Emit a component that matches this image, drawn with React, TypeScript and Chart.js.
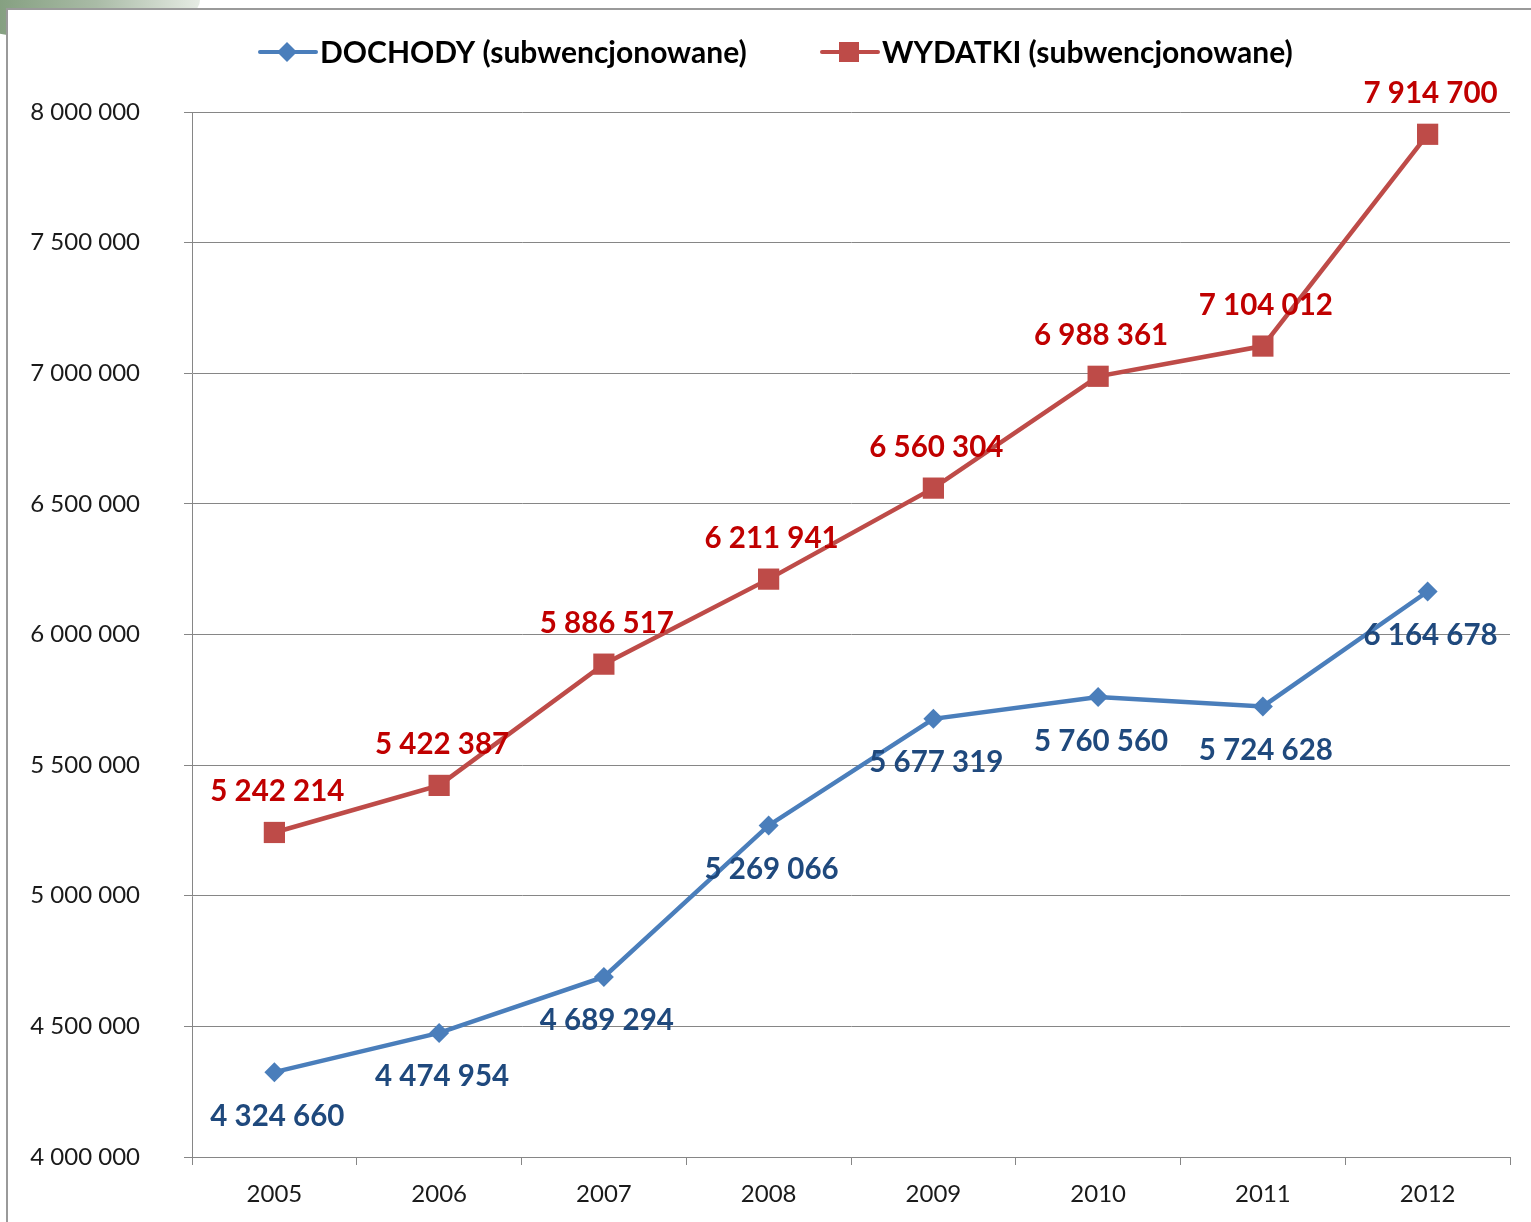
import React, { useEffect, useRef } from "react";
import { Chart, registerables } from "chart.js";

Chart.register(...registerables);

const years = ["2005", "2006", "2007", "2008", "2009", "2010", "2011", "2012"];
const dochody = [4324660, 4474954, 4689294, 5269066, 5677319, 5760560, 5724628, 6164678];
const wydatki = [5242214, 5422387, 5886517, 6211941, 6560304, 6988361, 7104012, 7914700];
const seriesNames = ["DOCHODY (subwencjonowane)", "WYDATKI (subwencjonowane)"];
const yMin = 4000000;
const yMax = 8000000;
const yStep = 500000;

const BLUE = "#4A7EBB";
const RED = "#BE4B48";
const BLUE_TXT = "#1F497D";
const RED_TXT = "#C00000";
const FONT = "Lato, 'Open Sans', sans-serif";

const fmt = (v: number) => String(Math.round(v)).replace(/\B(?=(\d{3})+(?!\d))/g, " ");

const labelsPlugin = {
  id: "valueLabels",
  afterDatasetsDraw(chart: any) {
    const ctx = chart.ctx;
    ctx.save();
    ctx.font = `bold 29.5px ${FONT}`;
    ctx.textAlign = "center";
    ctx.textBaseline = "middle";
    chart.data.datasets.forEach((ds: any, i: number) => {
      const meta = chart.getDatasetMeta(i);
      meta.data.forEach((pt: any, j: number) => {
        const above = i === 1;
        ctx.fillStyle = above ? RED_TXT : BLUE_TXT;
        ctx.fillText(fmt(ds.data[j]), pt.x + 3, pt.y + (above ? -41 : 44));
      });
    });
    ctx.restore();
  },
  afterDraw(chart: any) {
    const ctx = chart.ctx;
    ctx.save();
    ctx.font = `bold 30px ${FONT}`;
    ctx.textBaseline = "middle";
    ctx.textAlign = "left";
    const y = 52;
    // blue entry
    ctx.strokeStyle = BLUE;
    ctx.lineWidth = 4;
    ctx.lineCap = "round";
    ctx.beginPath();
    ctx.moveTo(260, y);
    ctx.lineTo(316, y);
    ctx.stroke();
    ctx.fillStyle = BLUE;
    ctx.beginPath();
    ctx.moveTo(287, y - 10);
    ctx.lineTo(297, y);
    ctx.lineTo(287, y + 10);
    ctx.lineTo(277, y);
    ctx.closePath();
    ctx.fill();
    ctx.fillStyle = "#000";
    ctx.fillText(seriesNames[0], 320, y + 1);
    // red entry
    ctx.strokeStyle = RED;
    ctx.beginPath();
    ctx.moveTo(822, y);
    ctx.lineTo(878, y);
    ctx.stroke();
    ctx.fillStyle = RED;
    ctx.fillRect(839, y - 10, 20, 20);
    ctx.fillStyle = "#000";
    ctx.fillText(seriesNames[1], 882, y + 1);
    ctx.restore();
  },
};

export default function App() {
  const ref = useRef<HTMLCanvasElement | null>(null);
  useEffect(() => {
    if (!ref.current) return;
    const chart = new Chart(ref.current, {
      type: "line",
      data: {
        labels: years,
        datasets: [
          {
            label: seriesNames[0],
            data: dochody,
            borderColor: BLUE,
            backgroundColor: BLUE,
            borderWidth: 4.5,
            pointStyle: "rectRot",
            pointRadius: 10,
            pointBorderWidth: 0,
            pointBackgroundColor: BLUE,
            tension: 0,
          },
          {
            label: seriesNames[1],
            data: wydatki,
            borderColor: RED,
            backgroundColor: RED,
            borderWidth: 4.5,
            pointStyle: "rect",
            pointRadius: 15,
            pointBorderWidth: 0,
            pointBackgroundColor: RED,
            tension: 0,
          },
        ],
      },
      options: {
        responsive: false,
        animation: false,
        devicePixelRatio: 1,
        layout: { padding: { top: 112, right: 21, left: 0, bottom: 0 } },
        plugins: { legend: { display: false }, tooltip: { enabled: false } },
        scales: {
          x: {
            offset: true,
            grid: {
              offset: true,
              drawOnChartArea: false,
              drawTicks: true,
              tickLength: 8,
              color: "#868686",
            },
            border: { display: true, color: "#868686", width: 1 },
            ticks: { color: "#1a1a1a", font: { family: FONT, size: 24 }, padding: 15, maxRotation: 0 },
            afterFit(s: any) {
              s.height = 65;
            },
          },
          y: {
            min: yMin,
            max: yMax,
            grid: { color: "#868686", tickLength: 8, drawTicks: true },
            border: { display: true, color: "#868686", width: 1 },
            ticks: {
              stepSize: yStep,
              color: "#1a1a1a",
              font: { family: FONT, size: 24 },
              padding: 44,
              callback: (v: any) => fmt(Number(v)),
            },
            afterFit(s: any) {
              s.width = 192;
            },
          },
        },
      },
      plugins: [labelsPlugin],
    });
    return () => chart.destroy();
  }, []);
  return (
    <div style={{ position: "absolute", left: 0, top: 0, width: 1531, height: 1222, background: "#fff", overflow: "hidden" }}>
      <div
        style={{
          position: "absolute",
          left: -60,
          top: -40,
          width: 260,
          height: 80,
          borderRadius: "50%",
          background: "linear-gradient(90deg, #6f8f6a 0%, #a9bba6 60%, #e6ece4 100%)",
        }}
      />
      <div
        style={{
          position: "absolute",
          left: 6,
          top: 8,
          width: 1531,
          height: 1222,
          borderLeft: "2px solid #9a9a9a",
          borderTop: "2px solid #9a9a9a",
          background: "#fff",
        }}
      />
      <canvas ref={ref} width={1531} height={1222} style={{ position: "absolute", left: 0, top: 0 }} />
    </div>
  );
}
